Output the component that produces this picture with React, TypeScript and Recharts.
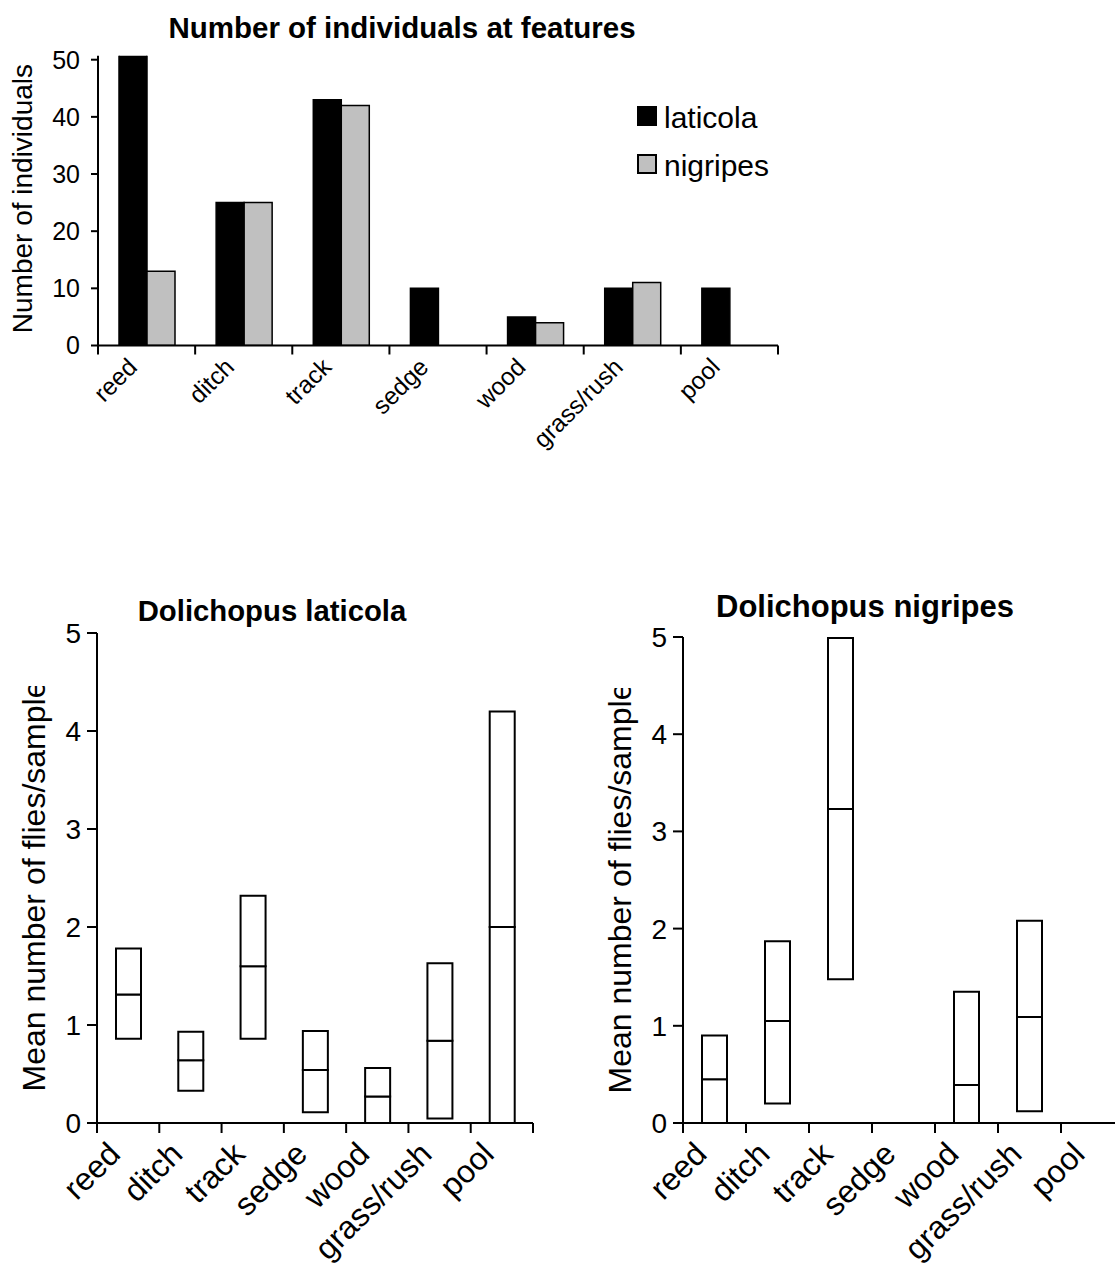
import React from 'react';
import { BarChart, Bar, XAxis, YAxis, Legend, Label } from 'recharts';

const FONT = '"Liberation Sans", Arial, Helvetica, sans-serif';

// ---------- data ----------
const categories = ['reed', 'ditch', 'track', 'sedge', 'wood', 'grass/rush', 'pool'];

const laticolaCounts = [51, 25, 43, 10, 5, 10, 10];
const nigripesCounts = [13, 25, 42, 0, 4, 11, 0];
const countTicks = [0, 10, 20, 30, 40, 50];

const laticolaLow = [0.86, 0.33, 0.86, 0.11, 0, 0.045, 0];
const laticolaMean = [1.31, 0.64, 1.6, 0.54, 0.27, 0.84, 2.0];
const laticolaHigh = [1.78, 0.93, 2.32, 0.94, 0.56, 1.63, 4.2];

const nigripesLow: (number | null)[] = [0, 0.2, 1.48, null, 0, 0.12, null];
const nigripesMean: (number | null)[] = [0.45, 1.05, 3.23, null, 0.39, 1.09, null];
const nigripesHigh: (number | null)[] = [0.9, 1.87, 4.99, null, 1.35, 2.08, null];
const meanTicks = [0, 1, 2, 3, 4, 5];

// ---------- tables ----------
const countRows = categories.map((c, i) => ({
  category: c,
  laticola: laticolaCounts[i],
  nigripes: nigripesCounts[i],
}));

function rangeRows(low: (number | null)[], mean: (number | null)[], high: (number | null)[]) {
  return categories.map((c, i) => {
    const l = low[i], m = mean[i], h = high[i];
    if (l == null || m == null || h == null) return { category: c, base: null, lower: null, upper: null };
    return { category: c, base: l, lower: m - l, upper: h - m };
  });
}
const laticolaRows = rangeRows(laticolaLow, laticolaMean, laticolaHigh);
const nigripesRows = rangeRows(nigripesLow, nigripesMean, nigripesHigh);

// ---------- helpers ----------
function makeXTick(band: number, tickLen: number, dx: number, dy: number, fontSize: number) {
  const last = categories[categories.length - 1];
  return (props: any) => {
    const { x, y, payload } = props;
    const tx = x + dx;
    const ty = y + dy;
    return (
      <g>
        <line x1={x - band / 2} x2={x - band / 2} y1={y} y2={y + tickLen} stroke="#000" strokeWidth={2} />
        {payload.value === last && (
          <line x1={x + band / 2} x2={x + band / 2} y1={y} y2={y + tickLen} stroke="#000" strokeWidth={2} />
        )}
        <text
          x={tx}
          y={ty}
          textAnchor="end"
          transform={`rotate(-45 ${tx} ${ty})`}
          fontSize={fontSize}
          fontFamily={FONT}
          fill="#000"
        >
          {payload.value}
        </text>
      </g>
    );
  };
}

function makeYLabel(text: string, fontSize: number, dist: number, shiftY = 0, clipId?: string, clipTop?: number) {
  return (props: any) => {
    const vb = props.viewBox || {};
    const x = vb.x + vb.width - dist;
    const y = vb.y + vb.height / 2 + shiftY;
    return (
      <g>
        {clipId && (
          <defs>
            <clipPath id={clipId} clipPathUnits="userSpaceOnUse">
              <rect x={0} y={clipTop} width={200} height={2000} />
            </clipPath>
          </defs>
        )}
        <g clipPath={clipId ? `url(#${clipId})` : undefined}>
          <text
            x={x}
            y={y}
            textAnchor="middle"
            transform={`rotate(-90 ${x} ${y})`}
            fontSize={fontSize}
            fontFamily={FONT}
            fill="#000"
          >
            {text}
          </text>
        </g>
      </g>
    );
  };
}

const axisLine = { stroke: '#000', strokeWidth: 2 };

const LegendBox = (props: any) => {
  const payload = props.payload || [];
  return (
    <svg width={220} height={110} style={{ display: 'block' }}>
      {payload.map((p: any, i: number) => (
        <g key={p.value}>
          <rect x={2} y={12 + 48 * i} width={18} height={18} fill={p.payload?.fill || p.color} stroke="#000" strokeWidth={2} />
          <text x={28} y={33 + 48 * i} fontSize={30} fontFamily={FONT} fill="#000">
            {p.value}
          </text>
        </g>
      ))}
    </svg>
  );
};

// ---------- charts ----------
const TopChart = () => {
  const W = 800, H = 470;
  const m = { top: 55.7, right: 22, bottom: 14.5, left: 38 };
  const yW = 60;
  const band = (W - m.left - m.right - yW) / categories.length;
  return (
    <BarChart width={W} height={H} data={countRows} margin={m} barGap={0}>
      <XAxis
        dataKey="category"
        type="category"
        interval={0}
        height={110}
        axisLine={axisLine}
        tickLine={false}
        tickSize={0}
        tickMargin={0}
        tick={makeXTick(band, 9, -8, 23, 24.5)}
      />
      <YAxis
        type="number"
        width={yW}
        domain={[0, 50.7]}
        allowDataOverflow
        ticks={countTicks}
        interval={0}
        axisLine={axisLine}
        tickLine={axisLine}
        tickSize={7}
        tickMargin={11}
        tick={{ fontSize: 25, fill: '#000', fontFamily: FONT }}
      >
        <Label content={makeYLabel('Number of individuals', 28, 66, -2)} />
      </YAxis>
      <Legend
        layout="vertical"
        align="center"
        verticalAlign="middle"
        wrapperStyle={{ position: 'absolute', left: 636, top: 95, width: 220 }}
        content={<LegendBox />}
      />
      <Bar dataKey="laticola" name="laticola" fill="#000000" stroke="#000" strokeWidth={1.5} barSize={28} isAnimationActive={false} />
      <Bar dataKey="nigripes" name="nigripes" fill="#C0C0C0" stroke="#000" strokeWidth={1.5} barSize={28} isAnimationActive={false} />
    </BarChart>
  );
};

const RangeChart = ({ data, W, m, clipId, clipTop }: any) => {
  const H = 691;
  const yW = 60;
  const band = (W - m.left - m.right - yW) / categories.length;
  return (
    <BarChart width={W} height={H} data={data} margin={m}>
      <XAxis
        dataKey="category"
        type="category"
        interval={0}
        height={140}
        axisLine={axisLine}
        tickLine={false}
        tickSize={0}
        tickMargin={0}
        tick={makeXTick(band, 10, -6, 33, 32)}
      />
      <YAxis
        type="number"
        width={yW}
        domain={[0, 5]}
        ticks={meanTicks}
        interval={0}
        axisLine={axisLine}
        tickLine={axisLine}
        tickSize={10}
        tickMargin={6}
        tick={{ fontSize: 28, fill: '#000', fontFamily: FONT }}
      >
        <Label content={makeYLabel('Mean number of flies/sample', 32, 52, 8, clipId, clipTop)} />
      </YAxis>
      <Bar dataKey="base" stackId="r" fill="none" stroke="none" barSize={25} isAnimationActive={false} />
      <Bar dataKey="lower" stackId="r" fill="#fff" stroke="#000" strokeWidth={2} barSize={25} isAnimationActive={false} />
      <Bar dataKey="upper" stackId="r" fill="#fff" stroke="#000" strokeWidth={2} barSize={25} isAnimationActive={false} />
    </BarChart>
  );
};

export default function App() {
  return (
    <div
      style={{
        position: 'absolute',
        left: 0,
        top: 0,
        width: 1115,
        height: 1271,
        overflow: 'hidden',
        background: '#fff',
        fontFamily: FONT,
      }}
    >
      <div style={{ position: 'absolute', left: 0, top: 0 }}>
        <TopChart />
      </div>
      <div style={{ position: 'absolute', left: 0, top: 580 }}>
        <RangeChart data={laticolaRows} W={543} m={{ top: 53, right: 10, bottom: 8, left: 37 }} clipId="clipL" clipTop={106} />
      </div>
      <div style={{ position: 'absolute', left: 580, top: 580 }}>
        <RangeChart data={nigripesRows} W={554} m={{ top: 57, right: 10, bottom: 8, left: 43 }} clipId="clipR" clipTop={108} />
      </div>
      <svg width={1115} height={1271} style={{ position: 'absolute', left: 0, top: 0, pointerEvents: 'none' }}>
        <text x={402} y={38} textAnchor="middle" fontSize={29.5} fontWeight="bold" fontFamily={FONT} fill="#000">
          Number of individuals at features
        </text>
        <text x={272} y={621} textAnchor="middle" fontSize={29.3} fontWeight="bold" fontFamily={FONT} fill="#000">
          Dolichopus laticola
        </text>
        <text x={865} y={617} textAnchor="middle" fontSize={31} fontWeight="bold" fontFamily={FONT} fill="#000">
          Dolichopus nigripes
        </text>
      </svg>
    </div>
  );
}
